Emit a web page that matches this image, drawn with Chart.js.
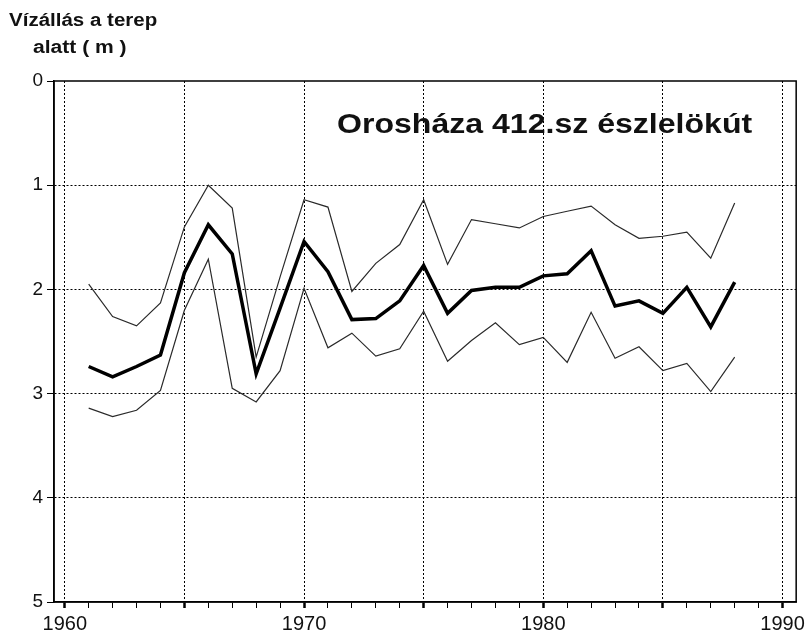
<!DOCTYPE html>
<html>
<head>
<meta charset="utf-8">
<title>Orosháza 412.sz észlelökút</title>
<script src="https://cdn.jsdelivr.net/npm/chart.js@4/dist/chart.umd.min.js"></script>
<style>
  html, body { margin: 0; padding: 0; background: #fff; }
  canvas { display: block; }
</style>
</head>
<body>
<canvas id="well-chart" width="809" height="633"></canvas>
<script>
// Water level below ground, Orosháza well 412 (yearly min / mean / max)
const years = [1961, 1962, 1963, 1964, 1965, 1966, 1967, 1968, 1969, 1970,
               1971, 1972, 1973, 1974, 1975, 1976, 1977, 1978, 1979, 1980,
               1981, 1982, 1983, 1984, 1985, 1986, 1987, 1988];

const levelHigh = [1.95, 2.26, 2.35, 2.13, 1.40, 1.00, 1.22, 2.65, 1.88, 1.14,
                   1.21, 2.02, 1.75, 1.57, 1.14, 1.76, 1.33, 1.37, 1.41, 1.30,
                   1.25, 1.20, 1.38, 1.51, 1.49, 1.45, 1.70, 1.17];

const levelMean = [2.74, 2.84, 2.74, 2.63, 1.84, 1.38, 1.66, 2.81, 2.18, 1.54,
                   1.83, 2.29, 2.28, 2.11, 1.77, 2.23, 2.01, 1.98, 1.98, 1.87,
                   1.85, 1.63, 2.16, 2.11, 2.23, 1.98, 2.36, 1.93];

const levelLow = [3.14, 3.22, 3.16, 2.97, 2.20, 1.71, 2.95, 3.08, 2.78, 1.99,
                  2.56, 2.42, 2.64, 2.57, 2.21, 2.69, 2.49, 2.32, 2.53, 2.46,
                  2.70, 2.22, 2.66, 2.55, 2.78, 2.71, 2.98, 2.65];

const xTickYears = [1960, 1961, 1962, 1963, 1964, 1965, 1966, 1967, 1968, 1969,
                    1970, 1971, 1972, 1973, 1974, 1975, 1976, 1977, 1978, 1979,
                    1980, 1981, 1982, 1983, 1984, 1985, 1986, 1987, 1988, 1989, 1990];
const xLabelYears = [1960, 1970, 1980, 1990];
const yTicks = [0, 1, 2, 3, 4, 5];

const plotTitle = 'Orosháza 412.sz észlelökút';
const axisTitle = ['Vízállás a terep', 'alatt ( m )'];

const FONT = '"Liberation Sans", Arial, Helvetica, sans-serif';

function toPoints(values) {
  return values.map((v, i) => ({ x: years[i], y: v }));
}

// frame + free text (scanned original has slightly wide lettering)
const decorations = {
  id: 'decorations',
  afterDraw(chart) {
    const { ctx, chartArea } = chart;
    ctx.save();
    ctx.strokeStyle = '#000';
    ctx.lineWidth = 1.5;
    ctx.strokeRect(chartArea.left, chartArea.top, chartArea.right - chartArea.left, chartArea.bottom - chartArea.top);

    ctx.fillStyle = '#111';
    ctx.textBaseline = 'alphabetic';
    ctx.textAlign = 'left';

    ctx.save();
    ctx.font = 'bold 18px ' + FONT;
    ctx.translate(9, 26);
    ctx.scale(1.14, 1);
    ctx.fillText(axisTitle[0], 0, 0);
    ctx.restore();

    ctx.save();
    ctx.font = 'bold 18px ' + FONT;
    ctx.translate(33, 53);
    ctx.scale(1.17, 1);
    ctx.fillText(axisTitle[1], 0, 0);
    ctx.restore();

    ctx.save();
    ctx.font = 'bold 28px ' + FONT;
    ctx.translate(337, 133);
    ctx.scale(1.145, 1);
    ctx.fillText(plotTitle, 0, 0);
    ctx.restore();

    ctx.restore();
  }
};

const ctx = document.getElementById('well-chart').getContext('2d');

new Chart(ctx, {
  type: 'line',
  data: {
    datasets: [
      {
        label: 'min',
        data: toPoints(levelHigh),
        borderColor: '#2a2a2a',
        borderWidth: 1.2,
        pointRadius: 0,
        tension: 0
      },
      {
        label: 'átlag',
        data: toPoints(levelMean),
        borderColor: '#000',
        borderWidth: 3.5,
        pointRadius: 0,
        tension: 0
      },
      {
        label: 'max',
        data: toPoints(levelLow),
        borderColor: '#2a2a2a',
        borderWidth: 1.2,
        pointRadius: 0,
        tension: 0
      }
    ]
  },
  options: {
    responsive: false,
    animation: false,
    layout: { padding: { top: 81, right: 12, left: 0, bottom: 0 } },
    plugins: {
      legend: { display: false },
      tooltip: { enabled: false },
      title: { display: false }
    },
    scales: {
      x: {
        type: 'linear',
        min: 1959.55,
        max: 1990.57,
        afterBuildTicks: scale => { scale.ticks = xTickYears.map(v => ({ value: v })); },
        afterFit: scale => { scale.height = 31; },
        ticks: {
          autoSkip: false,
          maxRotation: 0,
          padding: 4,
          color: '#111',
          font: { family: FONT, size: 20 },
          callback: v => xLabelYears.includes(v) ? String(v) : ''
        },
        grid: {
          color: c => (c.tick && c.tick.value % 5 === 0) ? '#000' : 'rgba(0,0,0,0)',
          lineWidth: 1,
          tickColor: '#000',
          tickLength: 6,
          tickWidth: c => (c.tick && c.tick.value % 5 === 0) ? 2.5 : 1
        },
        border: { display: true, color: '#000', width: 1.5, dash: [2, 2] }
      },
      y: {
        type: 'linear',
        reverse: true,
        min: 0,
        max: 5,
        afterBuildTicks: scale => { scale.ticks = yTicks.map(v => ({ value: v })); },
        afterFit: scale => { scale.width = 54; },
        ticks: {
          padding: 4,
          color: '#111',
          font: { family: FONT, size: 19 }
        },
        grid: {
          color: c => (c.tick && c.tick.value > 0 && c.tick.value < 5) ? '#000' : 'rgba(0,0,0,0)',
          lineWidth: 1,
          tickColor: '#000',
          tickLength: 7,
          tickWidth: 1
        },
        border: { display: true, color: '#000', width: 1.5, dash: [2, 2] }
      }
    }
  },
  plugins: [decorations]
});
</script>
</body>
</html>
